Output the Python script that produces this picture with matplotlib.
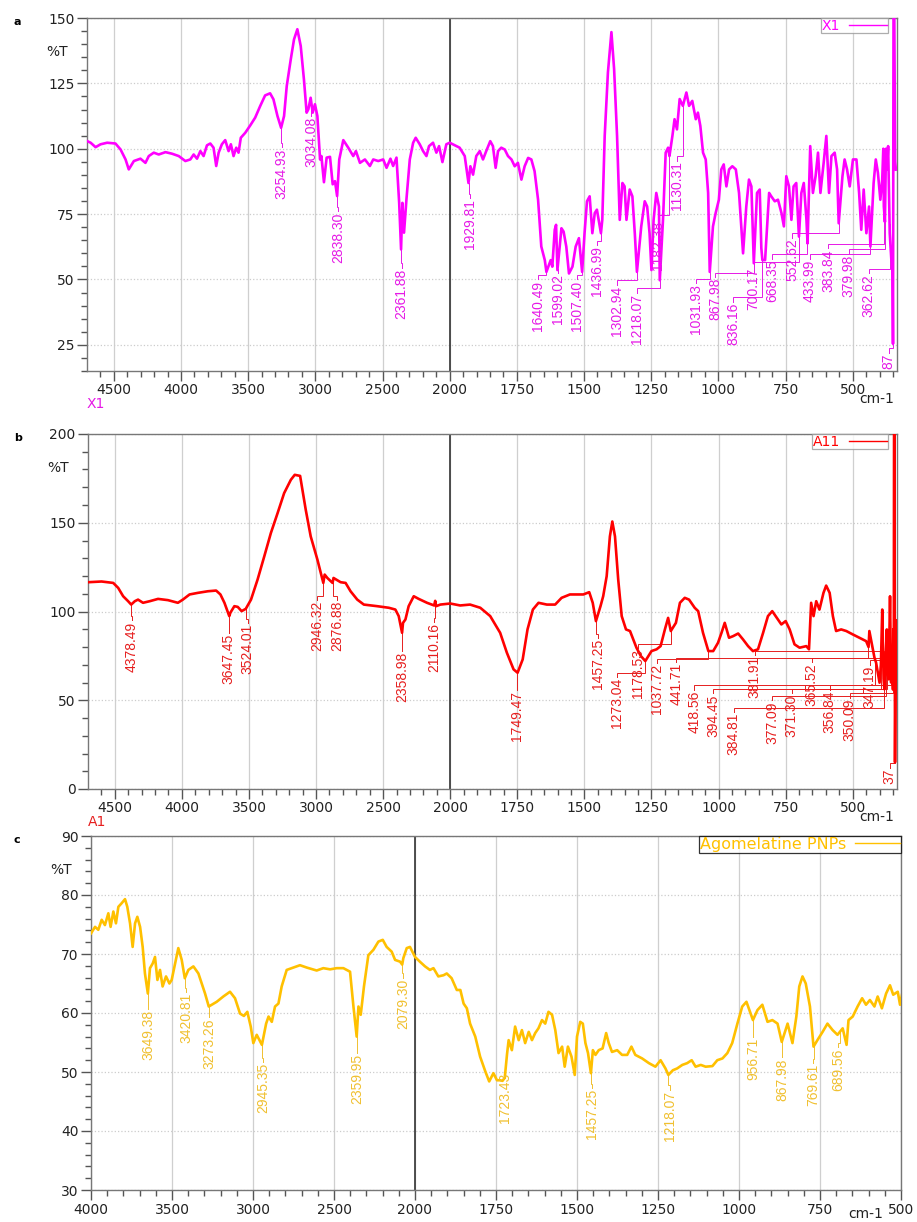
import numpy as np
import matplotlib
matplotlib.use("Agg")
import matplotlib.pyplot as plt
from matplotlib.lines import Line2D

# FTIR traces, (wavenumber cm-1, %T), high to low wavenumber
spec_x1 = [
    (4698, 102.9), (4673, 102.3), (4636, 100.6), (4599, 101.7), (4550, 102.3), (4488, 102.0),
    (4450, 99.7), (4413, 95.9), (4389, 92.1), (4351, 95.3), (4302, 96.2), (4265, 94.6),
    (4240, 97.2), (4203, 98.5), (4166, 97.8), (4116, 98.7), (4067, 98.1), (4017, 97.2),
    (3968, 95.3), (3931, 95.9), (3906, 97.8), (3881, 96.2), (3856, 99.1), (3832, 97.2),
    (3807, 101.3), (3782, 102.0), (3758, 100.4), (3738, 93.4), (3720, 98.5), (3696, 101.7),
    (3671, 103.3), (3646, 99.1), (3629, 101.7), (3609, 97.2), (3589, 100.4), (3572, 98.5),
    (3555, 104.2), (3522, 106.1), (3485, 108.9), (3448, 111.9), (3411, 116.3), (3374, 120.4),
    (3337, 121.2), (3312, 118.9), (3282, 112.5), (3255, 108.0), (3233, 112.5), (3213, 124.0),
    (3183, 134.2), (3159, 141.8), (3134, 145.7), (3109, 139.3), (3085, 126.5), (3065, 113.8),
    (3052, 115.1), (3035, 119.5), (3020, 113.8), (3003, 117.0), (2985, 112.5), (2965, 95.9),
    (2955, 97.2), (2936, 87.2), (2916, 96.6), (2891, 96.9), (2871, 86.4), (2854, 87.6),
    (2838, 81.9), (2822, 95.9), (2792, 103.3), (2755, 100.4), (2718, 97.2), (2698, 99.1),
    (2668, 94.6), (2631, 95.9), (2594, 93.4), (2569, 95.9), (2532, 95.3), (2495, 95.9),
    (2470, 92.7), (2441, 96.2), (2421, 93.4), (2396, 96.6), (2376, 79.3), (2362, 61.5),
    (2352, 79.3), (2340, 67.9), (2322, 80.6), (2297, 95.9), (2272, 102.3), (2253, 104.2),
    (2223, 101.7), (2198, 99.1), (2173, 97.2), (2154, 101.0), (2124, 102.3), (2099, 98.5),
    (2079, 101.0), (2054, 94.9), (2025, 101.7), (2000, 102.3),
    (1981, 101.3), (1963, 100.4), (1944, 97.2), (1930, 86.9), (1923, 93.3), (1913, 90.1),
    (1901, 97.2), (1888, 99.1), (1876, 95.9), (1864, 99.1), (1849, 102.9), (1839, 101.0),
    (1829, 92.7), (1820, 99.1), (1808, 100.4), (1795, 99.7), (1783, 97.2), (1770, 95.9),
    (1758, 93.3), (1746, 94.6), (1733, 88.2), (1721, 93.3), (1708, 96.5), (1696, 95.9),
    (1684, 91.4), (1671, 80.5), (1659, 62.6), (1646, 57.4), (1640, 52.9), (1624, 57.4),
    (1618, 54.9), (1609, 69.0), (1604, 70.9), (1599, 53.6), (1584, 69.6), (1576, 68.3),
    (1566, 62.6), (1556, 52.3), (1543, 54.9), (1531, 62.6), (1519, 65.8), (1507, 52.9),
    (1498, 67.7), (1489, 79.9), (1479, 81.8), (1469, 67.7), (1460, 75.4), (1452, 76.7),
    (1437, 67.7), (1432, 72.8), (1423, 104.9), (1411, 129.2), (1398, 144.6), (1388, 130.5),
    (1377, 104.9), (1367, 72.8), (1357, 86.9), (1349, 85.6), (1342, 72.8), (1330, 84.4),
    (1320, 81.8), (1311, 67.7), (1303, 52.9), (1287, 70.3), (1274, 79.9), (1265, 77.9),
    (1256, 67.7), (1249, 53.6), (1241, 72.8), (1231, 83.1), (1221, 77.9), (1218, 49.7),
    (1206, 72.8), (1196, 98.5), (1187, 100.4), (1182, 97.2), (1171, 104.9), (1163, 111.3),
    (1154, 107.4), (1144, 119.0), (1132, 116.4), (1119, 121.5), (1109, 116.4), (1097, 118.3),
    (1084, 111.3), (1076, 113.8), (1067, 108.7), (1057, 98.5), (1047, 95.9), (1038, 83.1),
    (1032, 52.9), (1020, 70.3), (1010, 75.4), (998, 80.5), (989, 92.1), (980, 94.0),
    (970, 85.6), (960, 92.1), (948, 93.3), (935, 92.1), (923, 83.1), (908, 60.0),
    (896, 77.9), (886, 88.2), (877, 85.6), (868, 56.2), (856, 83.1), (846, 84.4),
    (840, 62.0), (836, 57.4), (826, 57.4), (811, 83.1), (803, 81.8), (790, 79.9),
    (778, 80.5), (765, 75.4), (756, 70.3), (747, 89.5), (737, 85.6), (728, 72.8),
    (720, 85.6), (710, 86.9), (700, 66.4), (691, 83.1), (682, 86.9), (672, 72.8),
    (668, 63.8), (658, 101.0), (648, 83.1), (638, 89.5), (629, 98.5), (620, 83.1),
    (608, 94.6), (598, 104.9), (588, 83.1), (579, 97.2), (567, 98.5), (558, 92.1),
    (552, 71.5), (538, 89.5), (530, 95.9), (521, 92.1), (511, 85.6), (499, 95.9),
    (486, 95.9), (476, 83.1), (468, 69.0), (459, 84.4), (449, 67.7), (439, 77.9),
    (434, 62.6), (422, 86.9), (414, 95.9), (406, 90.8), (397, 80.5), (390, 88.2),
    (386, 100.0), (384, 78.0), (380, 72.0), (376, 100.0), (372, 92.0), (368, 101.0),
    (362, 67.7), (356, 57.4), (352, 60.0), (349.9, 25.4), (348, 150.0), (345, 150.0),
    (342, 95.0), (339, 92.0),
]

spec_a11 = [
    (4698, 116.5), (4599, 116.9), (4512, 116.1), (4475, 113.3), (4438, 108.6), (4401, 105.8),
    (4378, 103.9), (4351, 105.8), (4327, 106.7), (4290, 104.9), (4240, 105.8), (4178, 107.1),
    (4104, 106.4), (4030, 104.9), (3993, 106.7), (3943, 109.6), (3881, 110.5), (3807, 111.4),
    (3745, 111.8), (3713, 109.6), (3683, 104.9), (3647, 97.4), (3639, 99.3), (3609, 103.0),
    (3584, 102.6), (3555, 100.2), (3524, 101.5), (3485, 106.7), (3436, 118.0), (3386, 131.1),
    (3337, 144.2), (3287, 155.4), (3238, 166.7), (3188, 174.2), (3159, 177.0), (3119, 176.4),
    (3077, 157.3), (3040, 142.3), (2990, 129.2), (2946, 116.1), (2936, 120.8), (2916, 118.9),
    (2877, 116.1), (2870, 118.9), (2817, 116.5), (2780, 116.1), (2743, 111.4), (2693, 106.7),
    (2644, 103.9), (2545, 103.0), (2458, 102.1), (2409, 101.1), (2384, 97.4), (2359, 88.0),
    (2352, 93.6), (2334, 95.5), (2310, 103.0), (2272, 108.6), (2235, 107.1), (2173, 104.9),
    (2120, 103.4), (2112, 106.0), (2105, 103.0), (2074, 103.9), (2000, 104.5),
    (1963, 103.4), (1926, 103.9), (1888, 102.1), (1851, 97.4), (1814, 88.0), (1789, 76.8),
    (1764, 67.4), (1749, 65.5), (1730, 73.0), (1712, 89.9), (1692, 101.1), (1671, 104.9),
    (1640, 103.9), (1609, 103.9), (1585, 107.7), (1554, 109.6), (1504, 109.6), (1482, 110.9),
    (1469, 104.9), (1457, 94.6), (1440, 103.0), (1430, 108.6), (1417, 119.9), (1405, 142.3),
    (1396, 150.7), (1386, 142.3), (1374, 118.0), (1361, 97.4), (1345, 89.9), (1330, 89.0),
    (1318, 84.3), (1306, 79.6), (1290, 75.0), (1273, 72.1), (1250, 77.7), (1231, 78.7),
    (1216, 80.5), (1200, 89.9), (1188, 96.4), (1178, 89.0), (1159, 93.6), (1144, 104.9),
    (1126, 107.7), (1110, 106.7), (1089, 102.1), (1076, 100.2), (1058, 88.0), (1038, 77.7),
    (1020, 77.7), (1002, 82.4), (989, 88.0), (977, 93.6), (961, 85.2), (946, 86.1),
    (927, 87.6), (909, 84.3), (890, 80.5), (872, 77.7), (853, 78.7), (834, 88.0),
    (816, 97.4), (800, 100.2), (779, 95.5), (766, 92.7), (750, 94.6), (735, 89.9),
    (717, 81.5), (698, 79.6), (673, 80.5), (663, 78.7), (655, 104.9), (646, 97.4),
    (636, 105.8), (624, 101.1), (609, 110.5), (599, 114.6), (586, 110.5), (574, 97.4),
    (562, 89.0), (543, 89.9), (524, 89.0), (500, 87.1), (475, 85.2), (450, 83.3),
    (441, 80.0), (438, 89.0), (425, 78.7), (419, 74.0), (413, 71.2), (400, 59.9),
    (395, 70.0), (390, 101.1), (385, 62.0), (382, 56.2), (377, 75.0), (373, 89.9),
    (371, 65.0), (366, 61.8), (361, 108.6), (357, 60.0), (353, 71.2), (350, 56.0),
    (348.5, 90.0), (347, 62.0), (346, 200.0), (344.5, 200.0), (342.4, 15.0), (339, 95.0),
]

spec_pnp = [
    (4000, 73.5), (3975, 74.6), (3955, 74.1), (3934, 75.8), (3914, 74.9), (3893, 76.9),
    (3879, 74.6), (3862, 77.2), (3846, 75.2), (3831, 78.0), (3811, 78.6), (3790, 79.3),
    (3776, 78.0), (3759, 75.2), (3743, 71.2), (3728, 75.2), (3714, 76.3), (3697, 74.6),
    (3681, 71.2), (3667, 66.7), (3649, 63.3), (3636, 67.6), (3619, 68.4), (3605, 69.5),
    (3590, 65.6), (3574, 67.3), (3558, 64.5), (3537, 66.2), (3516, 65.0), (3502, 65.6),
    (3481, 68.4), (3461, 71.0), (3440, 69.0), (3421, 65.9), (3399, 67.3), (3368, 67.9),
    (3337, 66.7), (3296, 63.3), (3273, 61.1), (3224, 61.9), (3183, 62.8), (3142, 63.6),
    (3111, 62.5), (3080, 59.9), (3056, 59.5), (3035, 60.2), (3014, 57.7), (2998, 54.9),
    (2977, 56.3), (2945, 54.6), (2919, 58.2), (2904, 59.4), (2884, 58.5), (2864, 61.1),
    (2843, 61.6), (2823, 64.5), (2792, 67.3), (2751, 67.7), (2710, 68.1), (2668, 67.7),
    (2607, 67.2), (2566, 67.6), (2524, 67.4), (2483, 67.6), (2442, 67.6), (2401, 67.0),
    (2380, 61.1), (2360, 56.0), (2349, 61.1), (2335, 59.7), (2315, 64.5), (2288, 69.8),
    (2257, 70.7), (2226, 72.1), (2199, 72.4), (2175, 71.2), (2144, 70.4), (2123, 69.0),
    (2092, 68.7), (2079, 68.2), (2072, 69.3), (2051, 71.0), (2031, 71.2), (2000, 69.5),
    (1985, 68.7), (1969, 67.9), (1954, 67.3), (1943, 67.6), (1928, 66.2), (1912, 66.4),
    (1902, 66.7), (1887, 65.9), (1871, 63.9), (1860, 63.9), (1850, 61.6), (1840, 60.8),
    (1830, 58.2), (1814, 56.0), (1799, 52.6), (1783, 50.1), (1771, 48.4), (1758, 49.8),
    (1747, 48.6), (1737, 48.6), (1730, 48.5), (1723, 49.0), (1716, 53.0), (1711, 55.4),
    (1701, 53.7), (1691, 57.7), (1680, 55.4), (1670, 57.1), (1660, 54.9), (1649, 56.8),
    (1639, 55.4), (1629, 56.6), (1619, 57.4), (1608, 58.8), (1598, 58.2), (1588, 60.2),
    (1577, 59.7), (1567, 57.1), (1557, 53.2), (1546, 54.3), (1538, 50.9), (1528, 54.3),
    (1517, 52.6), (1507, 49.5), (1500, 56.0), (1490, 58.5), (1482, 58.2), (1474, 54.9),
    (1466, 53.2), (1457, 49.8), (1451, 53.7), (1443, 52.9), (1433, 53.7), (1421, 54.0),
    (1410, 56.6), (1402, 54.9), (1392, 53.4), (1376, 53.7), (1361, 52.9), (1345, 52.9),
    (1332, 54.3), (1320, 52.9), (1299, 52.3), (1278, 51.5), (1258, 50.9), (1242, 52.0),
    (1227, 50.6), (1218, 49.5), (1204, 50.3), (1191, 50.6), (1175, 51.2), (1160, 51.5),
    (1146, 52.0), (1134, 50.9), (1118, 51.2), (1103, 50.9), (1082, 51.0), (1067, 52.0),
    (1051, 52.3), (1036, 53.2), (1021, 54.9), (1005, 58.2), (990, 61.1), (977, 61.9),
    (964, 59.9), (957, 58.8), (943, 60.5), (928, 61.4), (912, 58.5), (897, 58.8),
    (881, 58.2), (868, 55.1), (850, 58.2), (835, 54.9), (823, 59.4), (814, 64.5),
    (804, 66.2), (794, 65.0), (781, 61.1), (770, 54.3), (758, 55.4), (742, 56.8),
    (727, 58.2), (711, 57.1), (696, 56.3), (680, 57.4), (668, 54.6), (662, 58.8),
    (649, 59.4), (634, 61.1), (620, 62.5), (608, 61.4), (596, 62.2), (582, 61.1),
    (572, 62.8), (559, 60.8), (546, 63.3), (534, 64.7), (524, 63.1), (510, 63.6),
    (503, 61.4), (497, 63.1),
]

# peak labels: (label, text x in cm-1, top of text in %T[, visible part])
peaks_x1 = [
    ("3254.93", 3250, 100.5), ("3034.08", 3030, 112.5), ("2838.30", 2833, 76),
    ("2361.88", 2357, 54.5), ("1929.81", 1925, 81), ("1640.49", 1672, 50),
    ("1599.02", 1597, 52.5), ("1507.40", 1526, 50), ("1436.99", 1452, 63),
    ("1302.94", 1377, 48), ("1218.07", 1302, 45), ("1182.38", 1224, 73),
    ("1130.31", 1153, 95.5), ("1031.93", 1082, 48.5), ("867.98", 1011, 51),
    ("836.16", 944, 41.5), ("700.17", 869, 55), ("668.35", 799, 58),
    ("552.62", 724, 66), ("433.99", 660, 58), ("383.84", 590, 62),
    ("379.98", 515, 60), ("362.62", 440, 52.5), ("349.87", 366, 22, "87"),
]
peaks_a11 = [
    ("4378.49", 4374, 95), ("3647.45", 3652, 88), ("3524.01", 3510, 93.5),
    ("2946.32", 2990, 106.5), ("2876.88", 2841, 106.5), ("2358.98", 2357, 78),
    ("2110.16", 2119, 94), ("1749.47", 1750, 56), ("1457.25", 1448, 85),
    ("1273.04", 1377, 63), ("1178.53", 1302, 79.5), ("1037.72", 1231, 71),
    ("441.71", 1157, 71.5), ("418.56", 1090, 56), ("394.45", 1019, 54),
    ("384.81", 944, 43.5), ("381.91", 866, 75.5), ("377.09", 799, 50),
    ("371.30", 728, 54), ("365.52", 653, 71.5), ("356.84", 586, 56),
    ("350.09", 511, 51.5), ("347.19", 437, 70), ("342.37", 362, 12, "37"),
]
peaks_pnp = [
    ("3649.38", 3648, 60.7), ("3420.81", 3414, 63.6), ("3273.26", 3272, 59.3),
    ("2945.35", 2938, 51.7), ("2359.95", 2358, 53.2), ("2079.30", 2074, 66),
    ("1723.43", 1722, 50), ("1457.25", 1454, 47.3), ("1218.07", 1212, 47),
    ("956.71", 956, 56), ("867.98", 867, 52.5), ("769.61", 771, 51.5),
    ("689.56", 694, 54.2),
]

W, H = 917, 1222
LABEL_FONT = ["Liberation Sans", "DejaVu Sans"]


# wavenumber axis is expanded 2x below 2000 cm-1
def fwd(x):
    x = np.asarray(x, dtype=float)
    return np.where(x > 2000, 2000 + (x - 2000) / 2, x)


def inv(u):
    u = np.asarray(u, dtype=float)
    return np.where(u > 2000, 2000 + (u - 2000) * 2, u)


def setup_axis(ax, xlim, ylim, ystep, yminor, xmajor):
    ax.set_xscale("function", functions=(fwd, inv))
    ax.set_xlim(*xlim)
    ax.set_ylim(*ylim)
    minors = [v for v in range(4600, 2000, -100) if v not in xmajor and xlim[1] < v < xlim[0]]
    minors += [v for v in range(1950, 300, -50) if v not in xmajor and xlim[1] < v < xlim[0]]
    ax.set_xticks(xmajor, labels=[str(v) for v in xmajor])
    ax.set_xticks(minors, minor=True)
    ax.set_yticks(np.arange(ylim[1], ylim[0] - 1, -ystep)[::-1])
    ax.set_yticks(np.arange(ylim[0], ylim[1] + 0.1, yminor), minor=True)
    ax.tick_params(which="major", direction="out", length=7, width=1, color="#555",
                   labelsize=10, labelcolor="#222", pad=2)
    ax.tick_params(which="minor", direction="out", length=4, width=1, color="#555")
    ax.tick_params(axis="x", which="both", top=False)
    ax.tick_params(axis="y", which="both", right=False)
    ax.grid(True, axis="x", which="major", color="#cfcfcf", lw=0.9)
    ax.grid(True, axis="y", which="major", color="#cccccc", lw=0.9, ls=":")
    ax.axvline(2000, color="#333333", lw=1.2, zorder=1.5)
    for s in ax.spines.values():
        s.set_color("#777777")
        s.set_linewidth(1)
    ax.set_axisbelow(True)


def mark_peaks(ax, wn, t, peaks, color, span):
    xp, fp = wn[::-1], t[::-1]
    for entry in peaks:
        lab, tx, top = entry[:3]
        shown = entry[3] if len(entry) > 3 else lab
        pw = float(lab)
        pt = np.interp(pw, xp, fp)
        knee = top + 0.012 * span
        ax.plot([pw, pw, tx, tx], [pt, knee, knee, top], color=color, lw=0.7,
                solid_joinstyle="miter", zorder=2.5)
        ax.text(tx, top - 0.003 * span, shown, rotation=90, ha="center", va="top",
                fontsize=10, color=color, family=LABEL_FONT, clip_on=True)


fig = plt.figure(figsize=(W / 100, H / 100), dpi=100)

panels = [
    dict(spec=spec_x1, peaks=peaks_x1, box=(87, 18, 897, 371), xlim=(4700, 335),
         ylim=(15, 150), ystep=25, yminor=5, color="#ff00ff", tcolor="#e619e6",
         legend="X1", tag="a", below="X1", edge="#999999", lsize=10, lx=0.989,
         unit_x=0.997, unit_dy=28),
    dict(spec=spec_a11, peaks=peaks_a11, box=(88, 434, 897, 789), xlim=(4700, 335),
         ylim=(0, 200), ystep=50, yminor=10, color="#ff0000", tcolor="#e61e1e",
         legend="A11", tag="b", below="A1", edge="#999999", lsize=10, lx=0.989,
         unit_x=0.997, unit_dy=28),
    dict(spec=spec_pnp, peaks=peaks_pnp, box=(91, 836, 901, 1190), xlim=(4000, 500),
         ylim=(30, 90), ystep=10, yminor=2, color="#ffc000", tcolor="#f0c030",
         legend="Agomelatine PNPs", tag="c", below=None, edge="#000000", lsize=11.5,
         lx=1.0, unit_x=0.978, unit_dy=24),
]

majors_wide = [4500, 4000, 3500, 3000, 2500, 2000, 1750, 1500, 1250, 1000, 750, 500]
majors_c = [4000, 3500, 3000, 2500, 2000, 1750, 1500, 1250, 1000, 750, 500]

for p in panels:
    x0, y0, x1, y1 = p["box"]
    ax = fig.add_axes([x0 / W, 1 - y1 / H, (x1 - x0) / W, (y1 - y0) / H])
    xmaj = majors_c if p["xlim"][0] == 4000 else majors_wide
    setup_axis(ax, p["xlim"], p["ylim"], p["ystep"], p["yminor"], xmaj)

    wn, t = map(np.array, zip(*p["spec"]))
    ax.plot(wn, t, color=p["color"], lw=1.9, zorder=3, solid_joinstyle="round")
    span = p["ylim"][1] - p["ylim"][0]
    mark_peaks(ax, wn, t, p["peaks"], p["tcolor"], span)

    h = ax.get_position().height * H
    ax.text(-0.037, 1 - 34 / h, "%T", transform=ax.transAxes, ha="center",
            va="center", fontsize=10, color="#222")
    ax.text(p["unit_x"], -p["unit_dy"] / h, "cm-1", transform=ax.transAxes, ha="right",
            va="center", fontsize=10, color="#222")
    if p["below"]:
        ax.text(0.0, -33 / h, p["below"], transform=ax.transAxes, ha="left",
                va="center", fontsize=10, color=p["tcolor"])
    fig.text(14 / W, 1 - (y0 + 4) / H, p["tag"], fontsize=8, weight="bold",
             ha="left", va="center")

    handle = Line2D([], [], color=p["color"], lw=1)
    leg = ax.legend([handle], [p["legend"]], loc="upper right",
                    bbox_to_anchor=(p["lx"], 1.0), markerfirst=False,
                    fontsize=p["lsize"], frameon=True, fancybox=False, borderpad=0.05,
                    handlelength=2.8, handletextpad=0.6, borderaxespad=0,
                    labelcolor=p["color"])
    leg.get_frame().set_edgecolor(p["edge"])
    leg.get_frame().set_linewidth(0.9)
    leg.set_zorder(5)

fig.savefig("out.png", dpi=100)
